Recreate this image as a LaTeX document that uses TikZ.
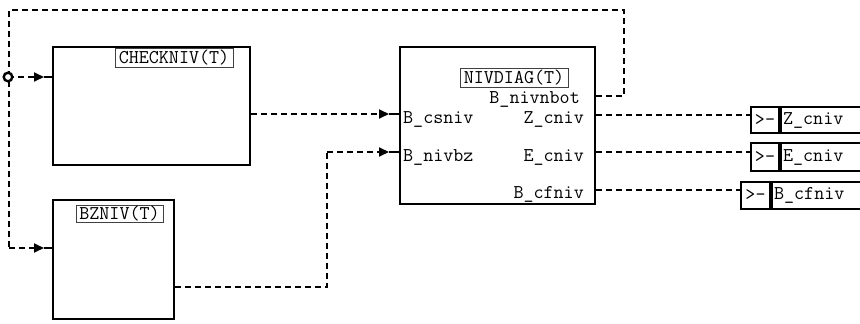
\documentclass[tikz,border=0pt]{standalone}
\usetikzlibrary{arrows.meta}
\tikzset{
  blk/.style={draw, line width=2.6pt, inner sep=0pt, fill=white},
  lbl/.style={draw=black!75, line width=0.8pt, inner sep=0pt, font=\ttfamily\fontsize{19.5}{20}\selectfont},
  txt/.style={inner sep=0pt, font=\ttfamily\fontsize{19.5}{20}\selectfont},
  wire/.style={dashed, dash pattern=on 6pt off 4pt, line width=1.8pt},
  stub/.style={line width=1.8pt},
  arr/.style={-{Triangle[length=10pt,width=9pt]}},
  obox/.style={draw, line width=1.8pt, inner sep=0pt},
}
\begin{document}
\begin{tikzpicture}[x=1pt,y=-1pt]
\useasboundingbox (0,0) rectangle (860,324);
\clip (0,0) rectangle (860,324);
% blocks
\node[blk, minimum width=197pt, minimum height=118pt] (chk) at (151.5,106) {};
\node[blk, minimum width=121pt, minimum height=119pt] (bz) at (113.5,259.5) {};
\node[blk, minimum width=195pt, minimum height=157pt] (niv) at (497.5,125.5) {};
% block titles
\node[lbl, minimum width=118pt, minimum height=19pt] (chkl) at (174,58) {CHECKNIV(T)};
\node[lbl, minimum width=87pt, minimum height=17pt] (bzl) at (119.5,213.5) {BZNIV(T)};
\node[lbl, minimum width=108pt, minimum height=19pt] (nivl) at (514,77.5) {NIVDIAG(T)};
% port labels
\node[txt, anchor=base west] (pcs) at (403,123) {B\_csniv};
\node[txt, anchor=base west] (pbz) at (403,161) {B\_nivbz};
\node[txt, anchor=base east] (pnb) at (580,103) {B\_nivnbot};
\node[txt, anchor=base east] (pz) at (584,123) {Z\_cniv};
\node[txt, anchor=base east] (pe) at (584,161) {E\_cniv};
\node[txt, anchor=base east] (pb) at (584,198) {B\_cfniv};
% output boxes
\node[obox, minimum width=28pt, minimum height=26pt] (zo1) at (765,120) {};
\node[obox, minimum width=85pt, minimum height=26pt, anchor=west] (zo2) at (zo1.east) {};
\node[txt] at (zo1) {>-};
\node[txt, anchor=west] (zt) at ([xshift=3pt]zo2.west) {Z\_cniv};
\node[obox, minimum width=28pt, minimum height=28pt] (eo1) at (765,157) {};
\node[obox, minimum width=85pt, minimum height=28pt, anchor=west] (eo2) at (eo1.east) {};
\node[txt] at (eo1) {>-};
\node[txt, anchor=west] (et) at ([xshift=3pt]eo2.west) {E\_cniv};
\node[obox, minimum width=29pt, minimum height=27pt] (bo1) at (755.5,195.5) {};
\node[obox, minimum width=95pt, minimum height=27pt, anchor=west] (bo2) at (bo1.east) {};
\node[txt] at (bo1) {>-};
\node[txt, anchor=west] (bt) at ([xshift=3pt]bo2.west) {B\_cfniv};
% coordinates
\coordinate (src) at (8,77);
\coordinate (tl) at (9,10);
\coordinate (tr) at (624,10);
\coordinate (fb) at (624,96);
\coordinate (bl) at (9,248);
\coordinate (a1) at (44,77);
\coordinate (a2) at (44,248);
\coordinate (a3) at (389,114);
\coordinate (a4) at (389,152);
\coordinate (m1) at (327,287);
\coordinate (m2) at (327,152);
% feedback loop
\draw[wire] (niv.east |- fb) -- (fb) -- (tr) -- (tl) -- (bl);
\draw[wire, arr] (bl) -- (a2);
\draw[stub] (a2) -- (bz.west |- a2);
\draw[wire, arr] (src) -- (a1);
\draw[stub] (a1) -- (chk.west |- a1);
\draw[line width=2.4pt, fill=white] (src) circle (4.3pt);
% CHECKNIV -> NIVDIAG
\draw[wire, arr] (chk.east |- a3) -- (a3);
\draw[stub] (a3) -- (niv.west |- a3);
% BZNIV -> NIVDIAG
\draw[wire] (bz.east |- m1) -- (m1) -- (m2);
\draw[wire, arr] (m2) -- (a4);
\draw[stub] (a4) -- (niv.west |- a4);
% outputs
\draw[wire] (niv.east |- 0,115) -- (zo1.west |- 0,115);
\draw[wire] (niv.east |- 0,152) -- (eo1.west |- 0,152);
\draw[wire] (niv.east |- 0,190) -- (bo1.west |- 0,190);
\end{tikzpicture}
\end{document}
